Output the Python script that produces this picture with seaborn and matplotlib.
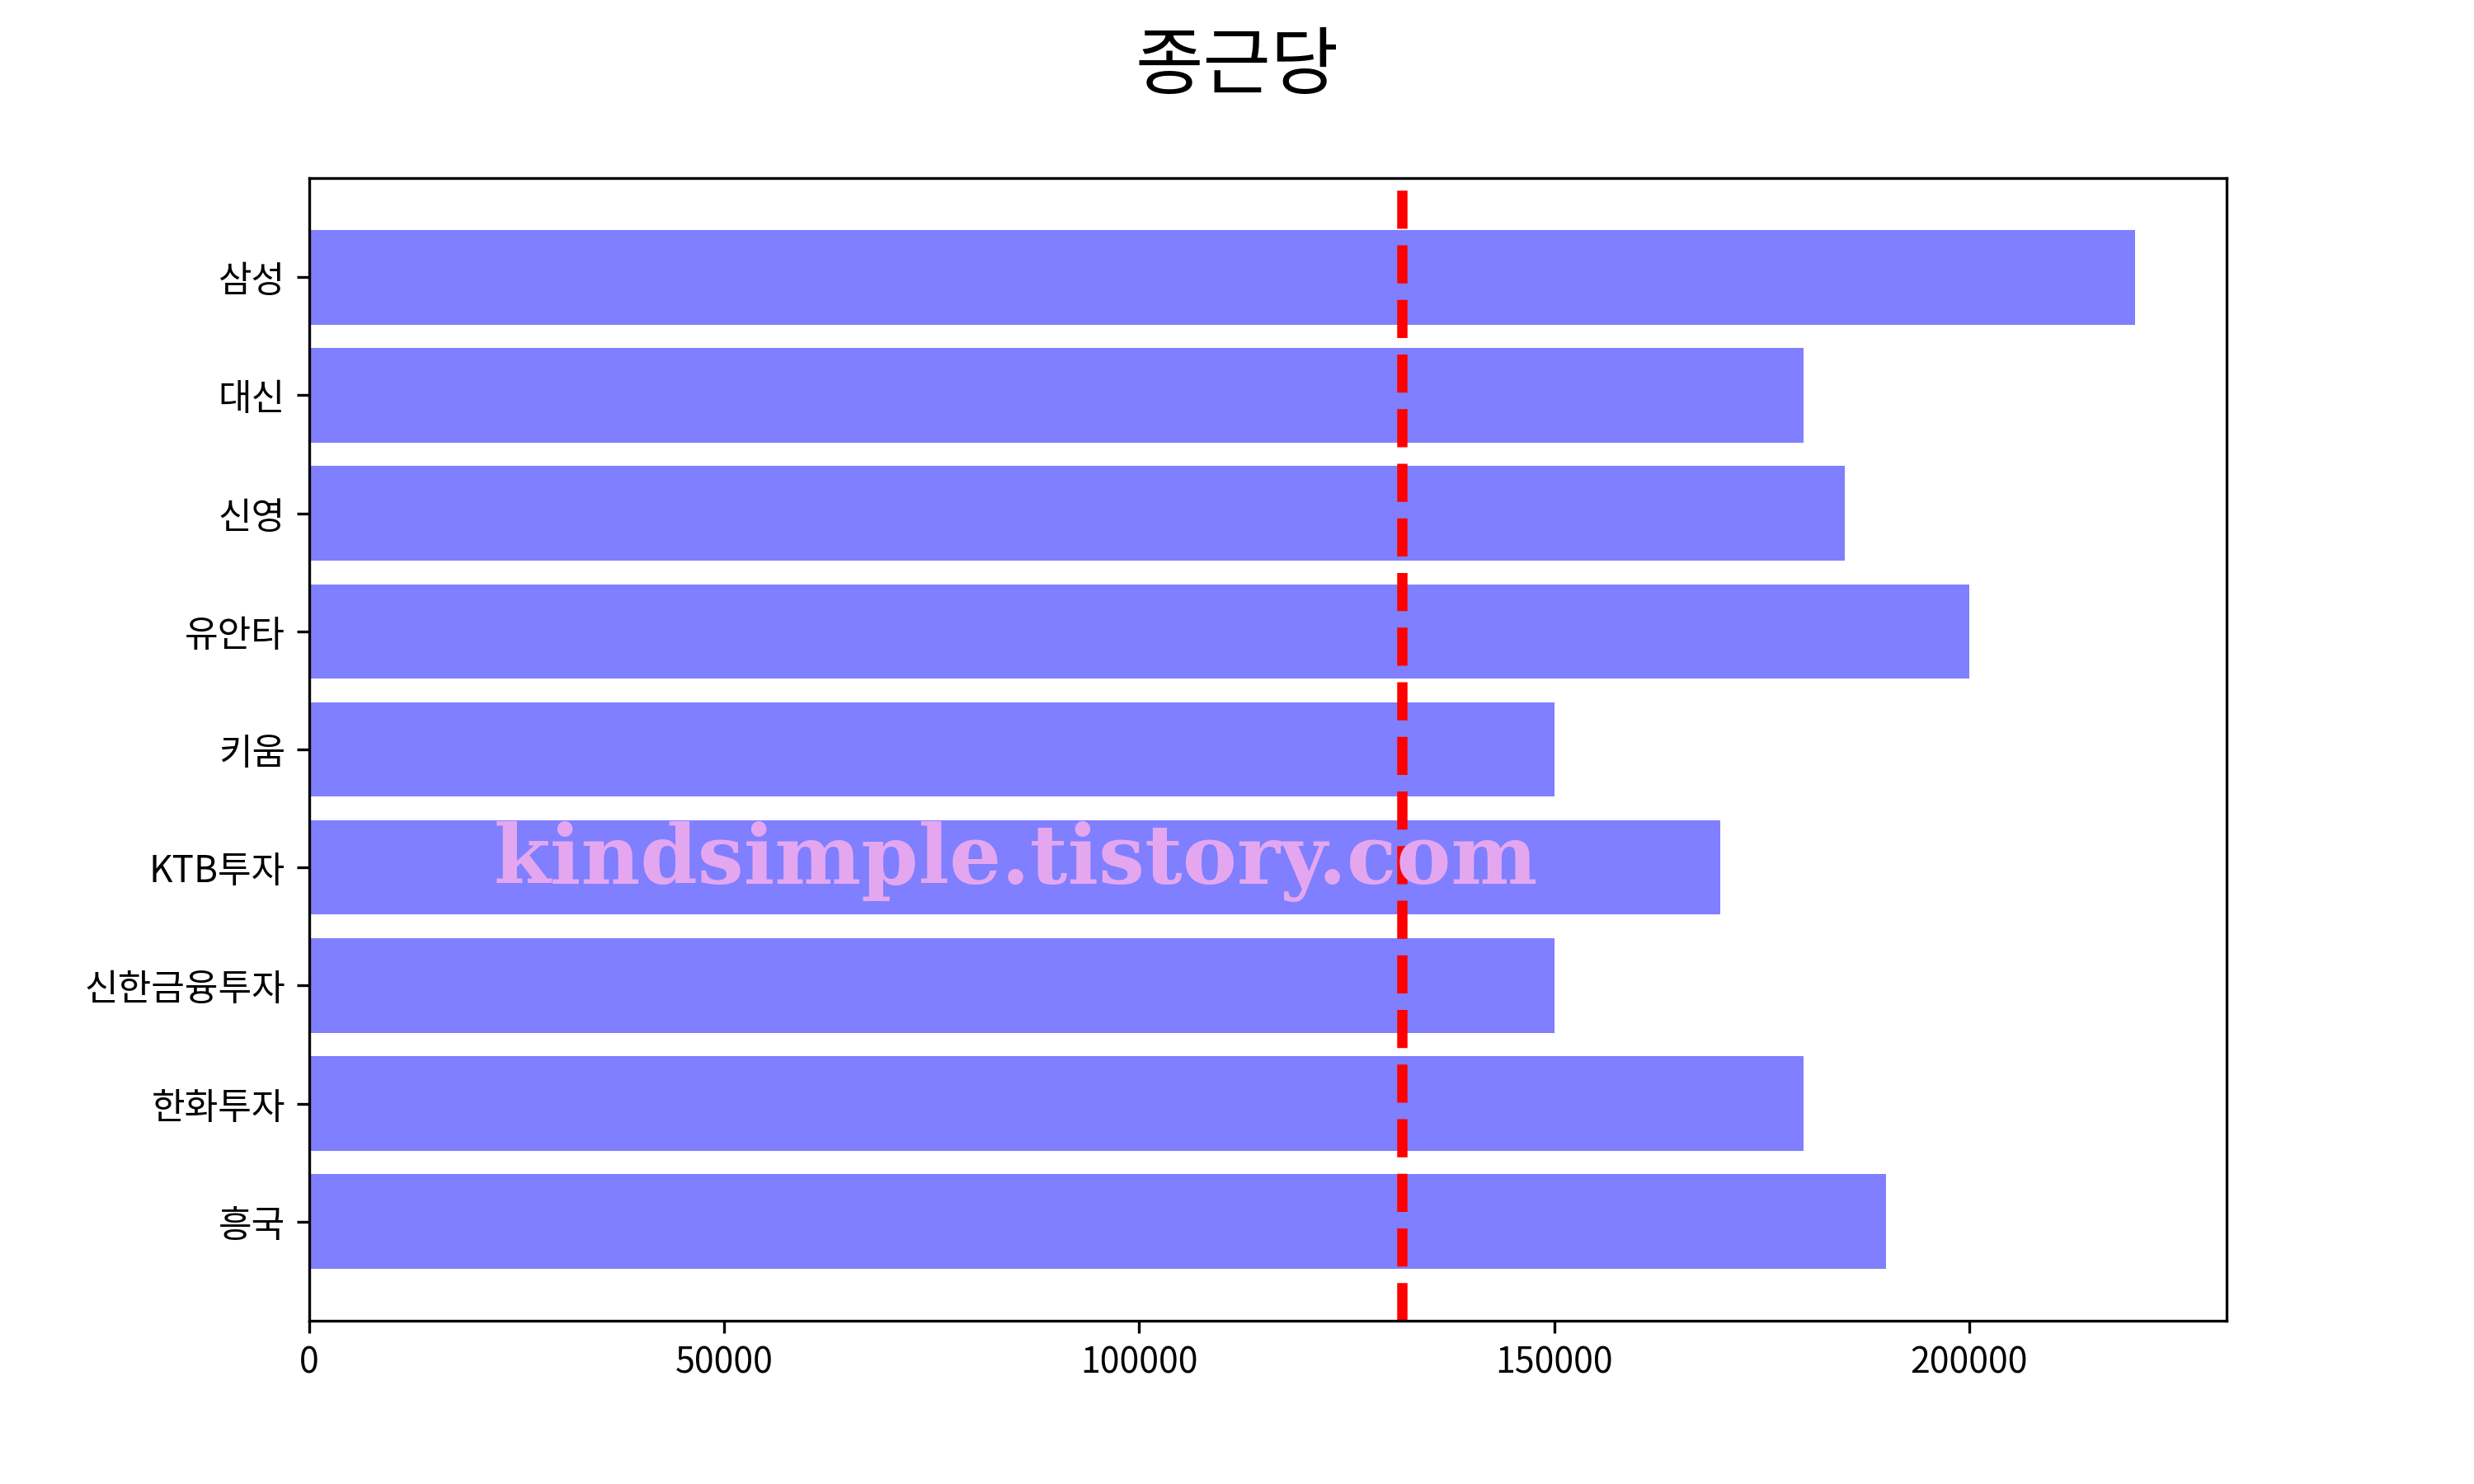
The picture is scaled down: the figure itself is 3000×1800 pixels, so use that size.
import matplotlib
matplotlib.use("Agg")
import matplotlib.pyplot as plt
import seaborn as sns
import pandas as pd

# Data
categories = ['삼성', '대신', '신영', '유안타', '키움', 'KTB투자', '신한금융투자', '한화투자', '흥국']
target_prices = [220000, 180000, 185000, 200000, 150000, 170000, 150000, 180000, 190000]
current_price = 131600
title = '종근당'
watermark = 'kindsimple.tistory.com'

plt.rcParams['font.family'] = ['Noto Sans CJK KR', 'DejaVu Sans']
plt.rcParams['axes.unicode_minus'] = False

df = pd.DataFrame({'증권사': categories, '목표가': target_prices})

fig, ax = plt.subplots(figsize=(10, 6), dpi=300)
sns.barplot(data=df, x='목표가', y='증권사', orient='h', order=categories,
            color='blue', alpha=0.5, saturation=1, linewidth=0, width=0.8, ax=ax)
ax.axvline(current_price, color='red', linestyle='--', linewidth=3)

n = len(categories)
ax.set_ylim(n - 1 + 0.4 + 0.44, -0.4 - 0.44)
ax.set_xlim(0, max(target_prices) * 1.05)
ax.set_xlabel('')
ax.set_ylabel('')
ax.tick_params(axis='y', labelsize=10.6)
ax.tick_params(axis='x', labelsize=10.3)

fig.suptitle(title, fontsize=21.5)

fig.text(0.4105, 0.4044, watermark, ha='center', va='baseline',
         fontsize=23.8, fontweight='heavy', family='DejaVu Serif', color='#E4A7EF')

fig.savefig('out.png', dpi=300)
